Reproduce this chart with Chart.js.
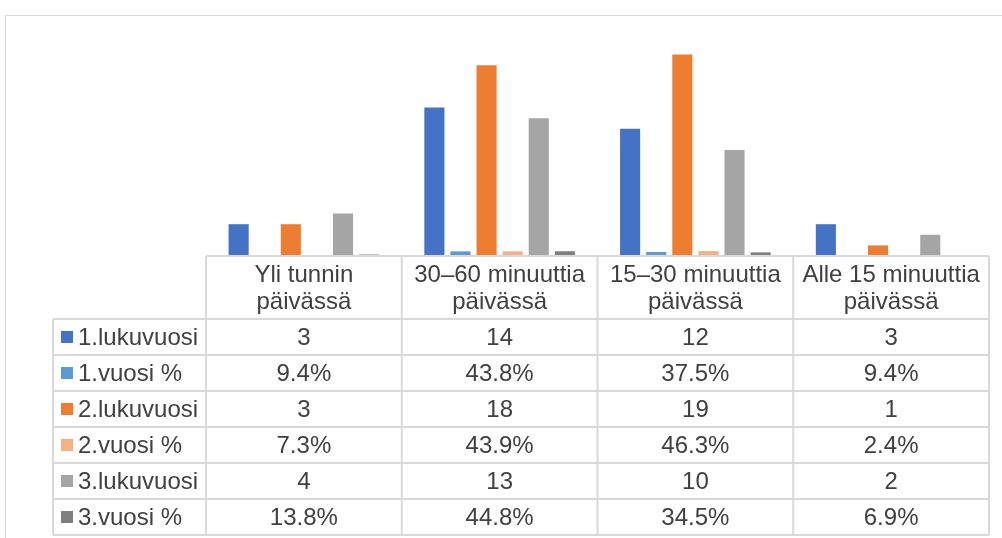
<!DOCTYPE html>
<html lang="fi">
<head>
<meta charset="UTF-8">
<title>Ruutuaika päivässä</title>
<script src="https://cdn.jsdelivr.net/npm/chart.js"></script>
<style>
    html, body { margin: 0; padding: 0; background: #fff; overflow: hidden; }
    .frame {
        position: absolute;
        left: 5px;
        top: 15px;
        width: 1100px;
        height: 600px;
        border: 1px solid #d9d9d9;
    }
    .wrap { position: absolute; left: 0; top: 0; width: 1002px; height: 538px; }
</style>
</head>
<body>
<div class="frame"></div>
<div class="wrap"><canvas id="chart" width="1002" height="538"></canvas></div>

<script>
const categories = [
    ['Yli tunnin', 'päivässä'],
    ['30–60 minuuttia', 'päivässä'],
    ['15–30 minuuttia', 'päivässä'],
    ['Alle 15 minuuttia', 'päivässä']
];

const year1Count = [3, 14, 12, 3];
const year1Pct = [9.4, 43.8, 37.5, 9.4];
const year2Count = [3, 18, 19, 1];
const year2Pct = [7.3, 43.9, 46.3, 2.4];
const year3Count = [4, 13, 10, 2];
const year3Pct = [13.8, 44.8, 34.5, 6.9];

const seriesNames = ['1.lukuvuosi', '1.vuosi %', '2.lukuvuosi', '2.vuosi %', '3.lukuvuosi', '3.vuosi %'];
const seriesColors = ['#4472C4', '#5B9BD5', '#ED7D31', '#F4B183', '#A5A5A5', '#7F7F7F'];
const seriesValues = [year1Count, year1Pct, year2Count, year2Pct, year3Count, year3Pct];
const isPercent = [false, true, false, true, false, true];

const FONT = '24px "Liberation Sans", Arial, sans-serif';
const TEXT = '#404040';
const LINE = '#d9d9d9';

// percentages are stored as fractions on the same axis as the counts
const datasets = seriesNames.map((name, i) => ({
    label: name,
    data: seriesValues[i].map(v => isPercent[i] ? v / 100 : v),
    backgroundColor: seriesColors[i],
    categoryPercentage: 0.8,
    barPercentage: 0.77
}));

const HEADER_H = 63;
const ROW_H = 36;
const LABEL_LEFT = 53;

// data table drawn under the plot, columns follow the category scale
const dataTable = {
    id: 'dataTable',
    afterDraw(chart) {
        const ctx = chart.ctx;
        const xs = chart.scales.x;
        const area = chart.chartArea;
        const colW = xs.getPixelForValue(1) - xs.getPixelForValue(0);
        const top = area.bottom;
        const bodyTop = top + HEADER_H;
        const bottom = bodyTop + ROW_H * seriesNames.length;
        const left = xs.getPixelForValue(0) - colW / 2;
        const right = xs.getPixelForValue(categories.length - 1) + colW / 2;

        ctx.save();
        ctx.strokeStyle = LINE;
        ctx.lineWidth = 2;
        ctx.beginPath();
        // horizontal lines
        ctx.moveTo(left, top); ctx.lineTo(right, top);
        for (let r = 0; r <= seriesNames.length; r++) {
            const y = bodyTop + r * ROW_H;
            ctx.moveTo(LABEL_LEFT, y); ctx.lineTo(right, y);
        }
        // vertical lines
        ctx.moveTo(LABEL_LEFT, bodyTop); ctx.lineTo(LABEL_LEFT, bottom);
        for (let c = 0; c <= categories.length; c++) {
            const x = left + c * colW;
            ctx.moveTo(x, top); ctx.lineTo(x, bottom);
        }
        ctx.stroke();

        ctx.font = FONT;
        ctx.fillStyle = TEXT;
        ctx.textBaseline = 'middle';

        // header
        ctx.textAlign = 'center';
        categories.forEach((lines, c) => {
            const cx = xs.getPixelForValue(c);
            lines.forEach((t, k) => ctx.fillText(t, cx, top + 19 + k * 27));
        });

        // rows
        seriesNames.forEach((name, r) => {
            const cy = bodyTop + r * ROW_H + ROW_H / 2;
            ctx.fillStyle = seriesColors[r];
            ctx.fillRect(LABEL_LEFT + 8, cy - 6, 12, 12);
            ctx.fillStyle = TEXT;
            ctx.textAlign = 'left';
            ctx.fillText(name, LABEL_LEFT + 25, cy + 1);
            ctx.textAlign = 'center';
            seriesValues[r].forEach((v, c) => {
                const txt = isPercent[r] ? v.toFixed(1) + '%' : String(v);
                ctx.fillText(txt, xs.getPixelForValue(c), cy + 1);
            });
        });
        ctx.restore();
    }
};

new Chart(document.getElementById('chart'), {
    type: 'bar',
    data: { labels: categories.map(l => l.join(' ')), datasets },
    options: {
        responsive: false,
        animation: false,
        layout: { padding: { left: 206, right: 13, top: 44, bottom: 282 } },
        plugins: { legend: { display: false }, tooltip: { enabled: false } },
        scales: {
            x: { display: false },
            y: { display: false, min: 0, max: 20 }
        }
    },
    plugins: [dataTable]
});
</script>
</body>
</html>
